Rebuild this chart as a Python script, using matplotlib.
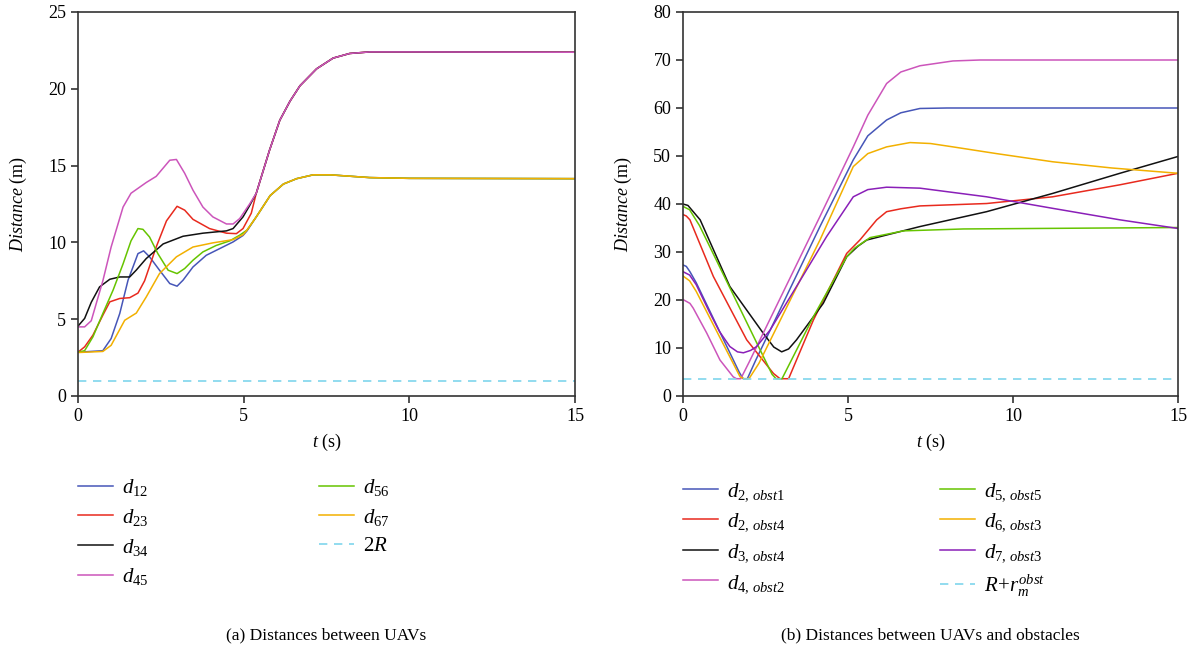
import matplotlib
matplotlib.use('Agg')
import matplotlib.pyplot as plt

plt.rcParams['font.family'] = ['Liberation Serif', 'DejaVu Serif']
plt.rcParams['mathtext.fontset'] = 'custom'
plt.rcParams['mathtext.rm'] = 'Liberation Serif'
plt.rcParams['mathtext.it'] = 'Liberation Serif:italic'

# ---- (a) distances between UAVs ----
# shared tails after the formation settles
t_up_tail = [5.38, 5.78, 6.09, 6.4, 6.7, 7.2, 7.7, 8.2, 8.8, 10, 15]
d_up_tail = [13.2, 16.0, 17.95, 19.2, 20.2, 21.3, 22.0, 22.3, 22.4, 22.4, 22.38]
t_low_tail = [5.38, 5.8, 6.2, 6.6, 7.1, 7.6, 8.8, 10, 15]
d_low_tail = [11.66, 13.05, 13.8, 14.15, 14.4, 14.4, 14.22, 14.17, 14.15]

t12 = [0, 0.75, 1.0, 1.26, 1.51, 1.81, 1.98, 2.16, 2.46, 2.77, 2.99, 3.17, 3.47, 3.87, 4.28, 4.68, 4.98, 5.1]
d12 = [2.85, 2.95, 3.74, 5.37, 7.54, 9.27, 9.45, 9.06, 8.19, 7.32, 7.15, 7.54, 8.4, 9.16, 9.6, 10.03, 10.45, 10.75]
t23 = [0, 0.2, 0.45, 0.75, 0.96, 1.26, 1.56, 1.81, 2.01, 2.36, 2.67, 2.99, 3.22, 3.47, 3.97, 4.48, 4.78, 4.98, 5.23]
d23 = [2.85, 3.2, 3.96, 5.26, 6.13, 6.35, 6.4, 6.7, 7.5, 9.7, 11.4, 12.35, 12.1, 11.5, 10.9, 10.6, 10.57, 10.9, 11.9]
t34 = [0, 0.2, 0.4, 0.65, 0.96, 1.26, 1.56, 1.76, 2.06, 2.57, 3.17, 3.77, 4.48, 4.68, 4.98, 5.18]
d34 = [4.55, 5.05, 6.1, 7.1, 7.6, 7.75, 7.75, 8.2, 8.95, 9.9, 10.4, 10.6, 10.75, 10.9, 11.66, 12.4]
t45 = [0, 0.2, 0.4, 0.75, 1.0, 1.36, 1.6, 2.06, 2.36, 2.77, 2.97, 3.22, 3.47, 3.77, 4.07, 4.48, 4.68, 4.88, 5.18]
d45 = [4.5, 4.5, 4.9, 7.5, 9.7, 12.3, 13.2, 13.9, 14.3, 15.35, 15.4, 14.5, 13.4, 12.3, 11.66, 11.2, 11.2, 11.55, 12.5]
t56 = [0, 0.2, 0.45, 0.75, 1.06, 1.36, 1.6, 1.81, 1.96, 2.16, 2.41, 2.72, 2.99, 3.22, 3.47, 3.77, 4.17, 4.58, 4.88, 5.1]
d56 = [2.85, 2.95, 3.85, 5.37, 6.9, 8.6, 10.1, 10.9, 10.85, 10.35, 9.27, 8.19, 7.97, 8.3, 8.84, 9.38, 9.8, 10.1, 10.47, 10.8]
t67 = [0, 0.75, 1.0, 1.41, 1.76, 2.06, 2.46, 2.97, 3.47, 4.07, 4.68, 4.98, 5.1]
d67 = [2.83, 2.9, 3.3, 4.93, 5.4, 6.45, 7.97, 9.06, 9.7, 9.97, 10.18, 10.5, 10.8]
two_R = 1.0

# ---- (b) distances between UAVs and obstacles ----
tb_21 = [0, 0.1, 0.21, 0.4, 1.7, 1.82, 1.95, 2.2, 4.15, 5.16, 5.6, 6.17, 6.6, 7.18, 8.0, 15]
db_21 = [27.3, 27.0, 25.9, 23.6, 5.0, 3.6, 3.6, 7.4, 35.3, 49.2, 54.2, 57.5, 59.0, 59.9, 60.0, 60.0]
tb_24 = [0, 0.1, 0.21, 0.92, 1.93, 2.74, 2.94, 3.2, 3.95, 4.96, 5.36, 5.87, 6.17, 6.6, 7.18, 9.2, 11.2, 13.24, 15]
db_24 = [37.8, 37.5, 36.7, 24.9, 11.7, 4.7, 3.6, 3.6, 15.8, 29.7, 32.5, 36.7, 38.4, 39.0, 39.6, 40.1, 41.5, 44.0, 46.4]
tb_34 = [0, 0.15, 0.52, 1.42, 2.43, 2.75, 2.99, 3.2, 3.44, 4.25, 4.96, 5.3, 5.57, 7.18, 9.2, 11.2, 13.24, 15]
db_34 = [40.0, 39.7, 36.7, 22.8, 13.1, 10.2, 9.2, 9.8, 11.7, 19.3, 29.0, 31.2, 32.5, 35.3, 38.4, 42.2, 46.4, 49.9]
tb_42 = [0, 0.21, 0.31, 0.72, 1.12, 1.52, 1.62, 1.75, 2.0, 4.15, 5.16, 5.6, 6.17, 6.6, 7.18, 8.18, 9.0, 15]
db_42 = [20.1, 19.3, 18.3, 13.1, 7.5, 4.0, 3.6, 3.6, 7.0, 37.4, 51.9, 58.5, 65.1, 67.5, 68.8, 69.8, 70.0, 70.0]
tb_55 = [0, 0.2, 0.5, 2.7, 2.82, 3.0, 3.95, 4.96, 5.2, 5.67, 6.68, 8.5, 15]
db_55 = [39.5, 38.8, 35.5, 4.5, 3.6, 3.6, 16.5, 29.0, 30.8, 33.0, 34.4, 34.8, 35.1]
tb_63 = [0, 0.2, 0.4, 1.73, 1.85, 2.0, 2.3, 4.15, 5.16, 5.6, 6.17, 6.88, 7.5, 8.18, 9.5, 11.2, 13.0, 15]
db_63 = [25.0, 24.0, 21.8, 4.0, 3.6, 3.6, 6.8, 32.5, 47.8, 50.5, 51.9, 52.8, 52.6, 51.9, 50.5, 48.8, 47.5, 46.4]
tb_73 = [0, 0.2, 0.4, 0.8, 1.1, 1.42, 1.65, 1.83, 2.05, 2.23, 2.64, 3.5, 4.35, 5.16, 5.6, 6.17, 7.18, 9.2, 11.2, 13.24, 15]
db_73 = [25.9, 25.2, 23.2, 17.5, 13.5, 10.3, 9.2, 9.0, 9.5, 10.3, 13.75, 23.5, 33.2, 41.5, 43.0, 43.5, 43.3, 41.5, 39.1, 36.7, 34.9]
R_r = 3.6

c_blue = '#4656b8'
c_red = '#e82a1e'
c_black = '#111111'
c_pink = '#cc55bb'
c_green = '#66c400'
c_yellow = '#f2b000'
c_purple = '#8a1fb8'
c_dash = '#7fd6ec'
lw = 1.1

W, H = 1198, 655
fig = plt.figure(figsize=(W / 100, H / 100), dpi=100)
ax1 = fig.add_axes([78 / W, 1 - 396 / H, 497 / W, 384 / H])
ax2 = fig.add_axes([683 / W, 1 - 396 / H, 495 / W, 384 / H])

h1 = []
h1 += ax1.plot(t12 + t_low_tail, d12 + d_low_tail, color=c_blue, lw=lw, label=r'$d_{12}$')
h1 += ax1.plot(t23 + t_up_tail, d23 + d_up_tail, color=c_red, lw=lw, label=r'$d_{23}$')
h1 += ax1.plot(t34 + t_up_tail, d34 + d_up_tail, color=c_black, lw=lw, label=r'$d_{34}$')
h1 += ax1.plot(t45 + t_up_tail, d45 + d_up_tail, color=c_pink, lw=lw, label=r'$d_{45}$')
h1 += ax1.plot(t56 + t_low_tail, d56 + d_low_tail, color=c_green, lw=lw, label=r'$d_{56}$')
h1 += ax1.plot(t67 + t_low_tail, d67 + d_low_tail, color=c_yellow, lw=lw, label=r'$d_{67}$')
h1 += ax1.plot([0, 15], [two_R, two_R], color=c_dash, lw=1.2, ls=(0, (5, 4)), label=r'$2R$')

h2 = []
h2 += ax2.plot(tb_21, db_21, color=c_blue, lw=lw, label=r'$d_{2,\,obst1}$')
h2 += ax2.plot(tb_24, db_24, color=c_red, lw=lw, label=r'$d_{2,\,obst4}$')
h2 += ax2.plot(tb_34, db_34, color=c_black, lw=lw, label=r'$d_{3,\,obst4}$')
h2 += ax2.plot(tb_42, db_42, color=c_pink, lw=lw, label=r'$d_{4,\,obst2}$')
h2 += ax2.plot(tb_55, db_55, color=c_green, lw=lw, label=r'$d_{5,\,obst5}$')
h2 += ax2.plot(tb_63, db_63, color=c_yellow, lw=lw, label=r'$d_{6,\,obst3}$')
h2 += ax2.plot(tb_73, db_73, color=c_purple, lw=lw, label=r'$d_{7,\,obst3}$')
h2 += ax2.plot([0, 15], [R_r, R_r], color=c_dash, lw=1.2, ls=(0, (5, 4)), label=r'$R\!+\!r_m^{obst}$')

for ax, ymax, ystep in [(ax1, 25, 5), (ax2, 80, 10)]:
    ax.set_xlim(0, 15)
    ax.set_ylim(0, ymax)
    ax.set_xticks([0, 5, 10, 15])
    ax.set_yticks(range(0, ymax + 1, ystep))
    ax.tick_params(direction='out', length=5, width=1.1, labelsize=13, top=False, right=False, color='#222222')
    for s in ax.spines.values():
        s.set_color('#333333')
        s.set_linewidth(1.2)
    ax.set_xlabel(r'$t$ (s)', fontsize=13, labelpad=5)
    ax.set_ylabel(r'$Distance$ (m)', fontsize=13, labelpad=14)

leg_kw = dict(loc='upper left', frameon=False, fontsize=15, handlelength=1.7,
              handletextpad=0.4, labelspacing=0.42, borderpad=0, borderaxespad=0)
fig.legend(h1[:4], [h.get_label() for h in h1[:4]], bbox_to_anchor=(78 / W, 1 - 477 / H), **leg_kw)
fig.legend(h1[4:], [h.get_label() for h in h1[4:]], bbox_to_anchor=(319 / W, 1 - 477 / H), **leg_kw)
fig.legend(h2[:4], [h.get_label() for h in h2[:4]], bbox_to_anchor=(683 / W, 1 - 481 / H), **leg_kw)
fig.legend(h2[4:], [h.get_label() for h in h2[4:]], bbox_to_anchor=(940 / W, 1 - 481 / H), **leg_kw)

fig.text(326 / W, 1 - 635 / H, '(a) Distances between UAVs', ha='center', va='center', fontsize=12.5)
fig.text(930 / W, 1 - 635 / H, '(b) Distances between UAVs and obstacles', ha='center', va='center', fontsize=12.5)

fig.savefig('out.png', dpi=100)
